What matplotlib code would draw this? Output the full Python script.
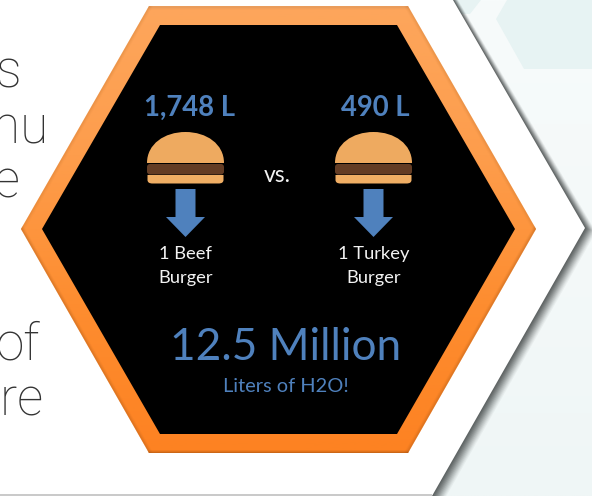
import numpy as np
import matplotlib
matplotlib.use("Agg")
import matplotlib.pyplot as plt
from matplotlib.patches import Polygon, PathPatch, FancyBboxPatch
from matplotlib.path import Path
from matplotlib.colors import LinearSegmentedColormap

# Slide content
BURGER_LITERS = ["1,748 L", "490 L"]
BURGER_NAMES = ["1 Beef\nBurger", "1 Turkey\nBurger"]
COMPARE_WORD = "vs."
TOTAL_TEXT = "12.5 Million"
TOTAL_UNIT = "Liters of H2O!"
SIDE_WORDS = ["s", "menu", "e", "of", "are"]
SIDE_RIGHT = [21, 48, 20, 40, 44]
SIDE_Y = [87, 143, 197, 360, 415]

# Hexagon outlines in slide pixels
OUTER_HEX = [(149, 6), (408, 6), (536, 229), (408, 453), (149, 453), (21, 229)]
INNER_HEX = [(160, 25), (397, 25), (515, 229), (397, 434), (160, 434), (42, 229)]
PANEL_EDGE = [(453, 0), (585, 228), (432, 496)]
BURGER_X = [185.5, 373.5]

BLUE = "#4f81bd"
fig = plt.figure(figsize=(5.92, 4.96), dpi=100)
ax = fig.add_axes([0, 0, 1, 1])
ax.set_xlim(0, 592)
ax.set_ylim(496, 0)
ax.axis("off")
fig.patch.set_facecolor("white")

# Pale backdrop to the right of the white panel
backdrop = LinearSegmentedColormap.from_list("backdrop", ["#f7fbfb", "#f4f9f9", "#eff6f6"])
ax.imshow(np.linspace(0, 1, 256).reshape(-1, 1), cmap=backdrop, extent=(430, 592, 496, 0),
          aspect="auto", zorder=0)
ax.add_patch(Polygon([(496, 19), (507, 0), (592, 0), (592, 69), (524, 69)],
                     fc="#e7f3f3", ec="none", zorder=1))
ax.add_patch(Polygon([(450, 0), (481, 0), (470, 14), (458, 14)], fc="#e7f3f3", ec="none", zorder=1))

# Soft shadow cast by the white panel, heavier towards the bottom
edge = np.array(PANEL_EDGE, dtype=float)
for dx in np.arange(11, 0, -1.0):
    shifted = edge + [dx * 0.45, 0]
    shifted[1] = edge[1] + [dx, dx * 0.35]
    shifted[2] = edge[2] + [dx * 1.3, 0]
    ax.add_patch(Polygon(list(shifted) + [(0, 496), (0, 0)], fc="#333838",
                         alpha=0.05 + 0.014 * (11 - dx), ec="none", zorder=2))
ax.add_patch(Polygon(PANEL_EDGE + [(0, 496), (0, 0)], fc="white", ec="none", zorder=3))
ax.plot([0, 432], [495.3, 495.3], color="#c9c9c9", lw=1.4, zorder=3.5, solid_capstyle="butt")

# Words of the body text running under the hexagon
for word, right, y in zip(SIDE_WORDS, SIDE_RIGHT, SIDE_Y):
    ax.text(right, y, word, ha="right", va="baseline", fontsize=37, color="#333333",
            family="Roboto", fontweight="light", zorder=4, clip_on=True)

# Orange frame with a vertical gradient and a darker rim
frame = LinearSegmentedColormap.from_list("frame", ["#fda65c", "#fd9d4c", "#fd8d30", "#fd8222"])
frame_clip = Polygon(OUTER_HEX, fc="none", ec="none", zorder=5)
ax.add_patch(frame_clip)
img = ax.imshow(np.linspace(0, 1, 256).reshape(-1, 1), cmap=frame, extent=(21, 536, 453, 6),
                aspect="auto", zorder=5)
img.set_clip_path(frame_clip)
ax.set_xlim(0, 592)
ax.set_ylim(496, 0)

rims = [
    ([OUTER_HEX[0], OUTER_HEX[1]], "#b98a5c", 0.5),
    ([OUTER_HEX[1], OUTER_HEX[2]], "#c9762f", 0.5),
    ([OUTER_HEX[2], OUTER_HEX[3]], "#b9621b", 0.8),
    ([OUTER_HEX[3], OUTER_HEX[4]], "#a9530f", 1.2),
    ([OUTER_HEX[4], OUTER_HEX[5]], "#b9621b", 0.8),
    ([OUTER_HEX[5], OUTER_HEX[0]], "#c9762f", 0.5),
]
for seg, colour, strength in rims:
    xs, ys = zip(*seg)
    for width, alpha in [(7, 0.12), (5, 0.18), (3, 0.3)]:
        line, = ax.plot(xs, ys, color=colour, lw=width * 0.72, alpha=alpha * strength, zorder=5.5)
        line.set_clip_path(frame_clip)
ax.add_patch(Polygon(INNER_HEX, fc="black", ec="none", zorder=6))


def draw_burger(cx):
    # Top bun, patty, bottom bun and the arrow below them
    dome = Path(
        [(cx - 38.5, 163), (cx - 38.5, 144), (cx - 21, 132), (cx, 132),
         (cx + 21, 132), (cx + 38.5, 144), (cx + 38.5, 163), (cx - 38.5, 163)],
        [Path.MOVETO, Path.CURVE4, Path.CURVE4, Path.CURVE4,
         Path.CURVE4, Path.CURVE4, Path.CURVE4, Path.CLOSEPOLY])
    ax.add_patch(PathPatch(dome, fc="#eeaa60", ec="none", zorder=7))
    ax.add_patch(FancyBboxPatch((cx - 36.5, 166), 73, 6.5, boxstyle="round,pad=2,rounding_size=3",
                                fc="#633c24", ec="none", zorder=7))
    base = Path(
        [(cx - 38, 175), (cx + 38, 175), (cx + 38, 180), (cx + 38, 183.5), (cx + 33, 183.5),
         (cx - 33, 183.5), (cx - 38, 183.5), (cx - 38, 180), (cx - 38, 175)],
        [Path.MOVETO, Path.LINETO, Path.LINETO, Path.CURVE3, Path.CURVE3,
         Path.LINETO, Path.CURVE3, Path.CURVE3, Path.CLOSEPOLY])
    ax.add_patch(PathPatch(base, fc="#f0ae64", ec="none", zorder=7))
    ax.add_patch(Polygon([(cx - 10, 189), (cx + 10, 189), (cx + 10, 217), (cx + 19.5, 217),
                          (cx, 237), (cx - 19.5, 217), (cx - 10, 217)],
                         fc=BLUE, ec="none", zorder=7))


for cx, liters, name in zip(BURGER_X, BURGER_LITERS, BURGER_NAMES):
    draw_burger(cx)
    ax.text(cx + 4.5 if cx < 200 else cx + 1.5, 108, liters, ha="center", va="center", fontsize=19.8,
            color=BLUE, family="Lato", fontweight="bold", zorder=8)
    ax.text(cx, 266, name, ha="center", va="center", fontsize=13.2, color="#f2f2f2",
            family="Lato", linespacing=1.6, zorder=8)

ax.text(277, 175, COMPARE_WORD, ha="center", va="center", fontsize=16.5, color="#f2f2f2",
        family="Lato", zorder=8)
ax.text(286, 347, TOTAL_TEXT, ha="center", va="center", fontsize=31.8, color=BLUE,
        family="Lato", zorder=8)
ax.text(286, 387, TOTAL_UNIT, ha="center", va="center", fontsize=14.4, color=BLUE,
        family="Lato", zorder=8)

fig.savefig("out.png", dpi=100, facecolor="white")
